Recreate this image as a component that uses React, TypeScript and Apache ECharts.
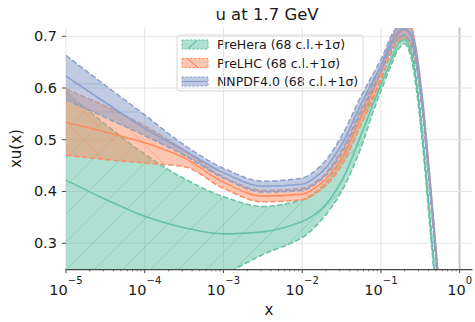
import React, { useEffect, useRef } from 'react';
import * as echarts from 'echarts';

// x values (momentum fraction)
const X_VALUES = [1e-5, 3.16e-5, 1e-4, 3.16e-4, 1e-3, 3.16e-3, 1e-2, 1.78e-2, 3.16e-2, 5.62e-2, 0.08, 0.1, 0.14, 0.17, 0.2, 0.24, 0.28, 0.34, 0.4, 0.46, 0.52, 0.58];

// PreHera
const PREHERA_UPPER = [0.592, 0.53, 0.472, 0.425, 0.39, 0.371, 0.384, 0.41, 0.462, 0.545, 0.585, 0.62, 0.672, 0.698, 0.703, 0.68, 0.625, 0.51, 0.39, 0.285, 0.19, 0.11];
const PREHERA_CENTRAL = [0.422, 0.385, 0.352, 0.33, 0.318, 0.322, 0.342, 0.367, 0.42, 0.51, 0.57, 0.606, 0.66, 0.688, 0.694, 0.67, 0.612, 0.498, 0.378, 0.273, 0.178, 0.098];
const PREHERA_LOWER = [0.1, 0.13, 0.16, 0.195, 0.238, 0.278, 0.311, 0.346, 0.4, 0.486, 0.555, 0.594, 0.65, 0.677, 0.685, 0.66, 0.6, 0.485, 0.365, 0.26, 0.165, 0.085];

// PreLHC
const PRELHC_UPPER = [0.598, 0.565, 0.527, 0.48, 0.428, 0.402, 0.406, 0.428, 0.48, 0.56, 0.61, 0.643, 0.7, 0.722, 0.73, 0.72, 0.675, 0.575, 0.46, 0.355, 0.26, 0.18];
const PRELHC_CENTRAL = [0.534, 0.515, 0.494, 0.465, 0.418, 0.391, 0.395, 0.417, 0.465, 0.545, 0.595, 0.63, 0.688, 0.706, 0.713, 0.7, 0.66, 0.562, 0.447, 0.343, 0.248, 0.168];
const PRELHC_LOWER = [0.47, 0.462, 0.455, 0.448, 0.406, 0.38, 0.384, 0.405, 0.45, 0.53, 0.58, 0.615, 0.675, 0.692, 0.697, 0.685, 0.645, 0.548, 0.434, 0.33, 0.235, 0.155];

// NNPDF4.0
const NNPDF_UPPER = [0.663, 0.605, 0.548, 0.49, 0.445, 0.42, 0.426, 0.452, 0.507, 0.585, 0.628, 0.655, 0.705, 0.724, 0.732, 0.72, 0.675, 0.575, 0.46, 0.355, 0.26, 0.18];
const NNPDF_CENTRAL = [0.623, 0.572, 0.522, 0.48, 0.436, 0.41, 0.414, 0.438, 0.49, 0.57, 0.615, 0.643, 0.693, 0.71, 0.715, 0.703, 0.66, 0.562, 0.447, 0.343, 0.248, 0.168];
const NNPDF_LOWER = [0.578, 0.543, 0.508, 0.47, 0.426, 0.399, 0.402, 0.424, 0.473, 0.553, 0.6, 0.63, 0.68, 0.697, 0.7, 0.688, 0.645, 0.548, 0.434, 0.33, 0.235, 0.155];

const LEGEND_LABELS = ['PreHera (68 c.l.+1σ)', 'PreLHC (68 c.l.+1σ)', 'NNPDF4.0 (68 c.l.+1σ)'];
const X_TICK_EXPONENTS = [-5, -4, -3, -2, -1, 0];
const Y_TICKS = [0.3, 0.4, 0.5, 0.6, 0.7];
const TITLE = 'u at 1.7 GeV';

const X_MIN = -5;
const X_MAX = 0.156;
const Y_MIN = 0.25;
const Y_MAX = 0.716;
const FONT = '"DejaVu Sans", "Liberation Sans", sans-serif';
const TEXT = '#1a1a1a';

function rgba(hex: string, a: number) {
  const n = parseInt(hex.slice(1), 16);
  return `rgba(${(n >> 16) & 255},${(n >> 8) & 255},${n & 255},${a})`;
}

type Pdf = { label: string; color: string; alpha: number; hatch: string; lower: number[]; central: number[]; upper: number[] };

const PDFS: Pdf[] = [
  { label: LEGEND_LABELS[0], color: '#66c2a5', alpha: 0.52, hatch: '/', lower: PREHERA_LOWER, central: PREHERA_CENTRAL, upper: PREHERA_UPPER },
  { label: LEGEND_LABELS[1], color: '#fc8d62', alpha: 0.5, hatch: '\\', lower: PRELHC_LOWER, central: PRELHC_CENTRAL, upper: PRELHC_UPPER },
  { label: LEGEND_LABELS[2], color: '#8da0cb', alpha: 0.55, hatch: '-', lower: NNPDF_LOWER, central: NNPDF_CENTRAL, upper: NNPDF_UPPER },
];

const HATCH_STEP = 28;

// monotone cubic (Fritsch-Carlson) bezier description of a pixel polyline
function tangents(p: number[][]) {
  const n = p.length;
  const h: number[] = [];
  const d: number[] = [];
  for (let i = 0; i < n - 1; i++) {
    h[i] = p[i + 1][0] - p[i][0];
    d[i] = (p[i + 1][1] - p[i][1]) / h[i];
  }
  const m: number[] = new Array(n);
  m[0] = d[0];
  m[n - 1] = d[n - 2];
  for (let i = 1; i < n - 1; i++) {
    if (d[i - 1] * d[i] <= 0) m[i] = 0;
    else {
      const w1 = 2 * h[i] + h[i - 1];
      const w2 = h[i] + 2 * h[i - 1];
      m[i] = (w1 + w2) / (w1 / d[i - 1] + w2 / d[i]);
    }
  }
  return { h, m };
}
const f = (v: number) => v.toFixed(2);
function forwardSegs(p: number[][]) {
  const { h, m } = tangents(p);
  let s = '';
  for (let i = 0; i < p.length - 1; i++) {
    s += ` C ${f(p[i][0] + h[i] / 3)} ${f(p[i][1] + (m[i] * h[i]) / 3)} ${f(p[i + 1][0] - h[i] / 3)} ${f(p[i + 1][1] - (m[i + 1] * h[i]) / 3)} ${f(p[i + 1][0])} ${f(p[i + 1][1])}`;
  }
  return s;
}
function backwardSegs(p: number[][]) {
  const { h, m } = tangents(p);
  let s = '';
  for (let i = p.length - 2; i >= 0; i--) {
    s += ` C ${f(p[i + 1][0] - h[i] / 3)} ${f(p[i + 1][1] - (m[i + 1] * h[i]) / 3)} ${f(p[i][0] + h[i] / 3)} ${f(p[i][1] + (m[i] * h[i]) / 3)} ${f(p[i][0])} ${f(p[i][1])}`;
  }
  return s;
}
function openPath(p: number[][]) {
  return `M ${f(p[0][0])} ${f(p[0][1])}` + forwardSegs(p);
}

function pdfRenderer(pdf: Pdf) {
  return (params: any, api: any) => {
    if (params.dataIndex !== 0) return null;
    const toPx = (vals: number[]) => X_VALUES.map((x, i) => api.coord([Math.log10(x), vals[i]]));
    const up = toPx(pdf.upper);
    const lo = toPx(pdf.lower);
    const ce = toPx(pdf.central);
    const n = up.length;
    const bandPath = openPath(up) + ` L ${f(lo[n - 1][0])} ${f(lo[n - 1][1])}` + backwardSegs(lo) + ' Z';
    const cs = params.coordSys;
    const x0 = cs.x, y0 = cs.y, x1 = cs.x + cs.width, y1 = cs.y + cs.height;
    const hatchStyle = { stroke: rgba(pdf.color, 0.55), lineWidth: 0.9, fill: null };
    const lines: any[] = [];
    if (pdf.hatch === '/') {
      for (let c = Math.floor((x0 + y0) / HATCH_STEP) * HATCH_STEP; c <= x1 + y1; c += HATCH_STEP) {
        lines.push({ type: 'line', shape: { x1: c - y1, y1: y1, x2: c - y0, y2: y0 }, style: hatchStyle });
      }
    } else if (pdf.hatch === '\\') {
      for (let c = Math.floor((x0 - y1) / HATCH_STEP) * HATCH_STEP; c <= x1 - y0; c += HATCH_STEP) {
        lines.push({ type: 'line', shape: { x1: c + y0, y1: y0, x2: c + y1, y2: y1 }, style: hatchStyle });
      }
    } else {
      for (let c = Math.floor(y0 / HATCH_STEP) * HATCH_STEP; c <= y1; c += HATCH_STEP) {
        lines.push({ type: 'line', shape: { x1: x0, y1: c, x2: x1, y2: c }, style: hatchStyle });
      }
    }
    const dashStyle = { stroke: pdf.color, lineWidth: 1.5, lineDash: [5.5, 2.4], fill: null };
    return {
      type: 'group',
      children: [
        { type: 'path', shape: { pathData: bandPath }, style: { fill: rgba(pdf.color, pdf.alpha), stroke: null } },
        { type: 'group', clipPath: { type: 'path', shape: { pathData: bandPath } }, children: lines },
        { type: 'path', shape: { pathData: openPath(lo) }, style: dashStyle },
        { type: 'path', shape: { pathData: openPath(up) }, style: dashStyle },
        { type: 'path', shape: { pathData: openPath(ce) }, style: { stroke: pdf.color, lineWidth: 1.6, fill: null } },
      ],
    };
  };
}

function buildOption() {
  const xTickData: number[][] = [];
  X_TICK_EXPONENTS.forEach((e) => {
    xTickData.push([e, Y_MIN, 1]);
    for (let k = 2; k <= 9; k++) {
      const p = e + Math.log10(k);
      if (p <= X_MAX) xTickData.push([p, Y_MIN, 0]);
    }
  });
  const yTickData = Y_TICKS.map((v) => [X_MIN, v]);

  const series: any[] = [
    {
      type: 'custom', silent: true, z: 1, clip: false,
      data: xTickData, encode: { x: 0, y: 1 },
      renderItem: (params: any, api: any) => {
        const cs = params.coordSys;
        const px = api.coord([api.value(0), Y_MIN])[0];
        const bottom = cs.y + cs.height;
        const major = api.value(2) === 1;
        const children: any[] = [
          { type: 'line', shape: { x1: px, y1: bottom, x2: px, y2: bottom + (major ? 4 : 2.2) }, style: { stroke: '#444', lineWidth: major ? 1 : 0.8 } },
        ];
        if (major) children.push({ type: 'line', shape: { x1: px, y1: cs.y, x2: px, y2: bottom }, style: { stroke: '#e3e3e3', lineWidth: 1 } });
        return { type: 'group', children };
      },
    },
    {
      type: 'custom', silent: true, z: 1, clip: false,
      data: yTickData, encode: { x: 0, y: 1 },
      renderItem: (params: any, api: any) => {
        const cs = params.coordSys;
        const py = api.coord([X_MIN, api.value(1)])[1];
        return {
          type: 'group',
          children: [
            { type: 'line', shape: { x1: cs.x - 4, y1: py, x2: cs.x, y2: py }, style: { stroke: '#444', lineWidth: 1 } },
            { type: 'line', shape: { x1: cs.x, y1: py, x2: cs.x + cs.width, y2: py }, style: { stroke: '#e3e3e3', lineWidth: 1 } },
          ],
        };
      },
    },
  ];

  PDFS.forEach((pdf) => {
    series.push({
      type: 'custom', name: pdf.label, silent: true, clip: true,
      data: [[X_MIN, Y_MIN]], encode: { x: 0, y: 1 },
      renderItem: pdfRenderer(pdf),
    });
  });

  const legendChildren: any[] = [
    { type: 'rect', shape: { x: 177, y: 35, width: 186, height: 56, r: 3 }, style: { fill: 'rgba(255,255,255,0.85)', stroke: '#d6d6d6', lineWidth: 1 } },
  ];
  PDFS.forEach((pdf, i) => {
    const cy = 44.5 + i * 18.5;
    legendChildren.push({ type: 'rect', shape: { x: 182, y: cy - 4.5, width: 26, height: 9 }, style: { fill: rgba(pdf.color, pdf.alpha), stroke: pdf.color, lineWidth: 1, lineDash: [2.5, 1.5] } });
    let hatch: any;
    if (pdf.hatch === '/') hatch = { x1: 188, y1: cy + 4, x2: 197, y2: cy - 4 };
    else if (pdf.hatch === '\\') hatch = { x1: 188, y1: cy - 4, x2: 197, y2: cy + 4 };
    else hatch = { x1: 183, y1: cy, x2: 207, y2: cy };
    legendChildren.push({ type: 'line', shape: hatch, style: { stroke: rgba(pdf.color, 1), lineWidth: 1.2 } });
    legendChildren.push({ type: 'text', style: { text: pdf.label, x: 217, y: cy, fill: TEXT, font: `12.5px ${FONT}`, align: 'left', verticalAlign: 'middle', textAlign: 'left', textVerticalAlign: 'middle' } });
  });

  return {
    animation: false,
    backgroundColor: '#ffffff',
    grid: { left: 61, right: 0, top: 28, bottom: 39, containLabel: false },
    xAxis: {
      type: 'value', min: X_MIN, max: X_MAX, interval: 1,
      axisLine: { show: true, lineStyle: { color: '#444', width: 1.25 } },
      axisTick: { show: false },
      splitLine: { show: false },
      axisLabel: {
        margin: 6,
        color: TEXT,
        formatter: (v: number) => {
          const n = Math.round(v);
          if (Math.abs(v - n) > 1e-6 || !X_TICK_EXPONENTS.includes(n)) return '';
          return `{b|10}{s|${n < 0 ? '\u2212' + -n : n}}`;
        },
        rich: {
          b: { fontSize: 14.5, fontFamily: FONT, color: TEXT, lineHeight: 22, verticalAlign: 'bottom' },
          s: { fontSize: 10, fontFamily: FONT, color: TEXT, lineHeight: 3, verticalAlign: 'top' },
        },
      },
      name: 'x', nameLocation: 'middle', nameGap: 27,
      nameTextStyle: { fontSize: 15, fontFamily: FONT, color: TEXT },
    },
    yAxis: {
      type: 'value', min: Y_MIN, max: Y_MAX,
      axisLine: { show: true, lineStyle: { color: '#444', width: 1.25 } },
      axisTick: { show: false },
      splitLine: { show: false },
      axisLabel: {
        margin: 9, color: TEXT, fontSize: 14.5, fontFamily: FONT,
        formatter: (v: number) => {
          const r = Math.round(v * 10) / 10;
          if (Math.abs(v - r) > 1e-6 || !Y_TICKS.includes(r)) return '';
          return r.toFixed(1);
        },
      },
      name: 'xu(x)', nameLocation: 'middle', nameGap: 33, nameRotate: 90,
      nameTextStyle: { fontSize: 15, fontFamily: FONT, color: TEXT },
    },
    graphic: [
      { type: 'text', z: 100, style: { text: TITLE, x: 267, y: 14.5, fill: TEXT, font: `16.5px ${FONT}`, align: 'center', verticalAlign: 'middle', textAlign: 'center', textVerticalAlign: 'middle' } },
      { type: 'group', z: 100, children: legendChildren },
    ],
    series,
  };
}

export default function App() {
  const ref = useRef<HTMLDivElement>(null);
  useEffect(() => {
    document.body.style.margin = '0';
    const chart = echarts.init(ref.current!, undefined, { renderer: 'svg' });
    chart.setOption(buildOption() as any);
    return () => chart.dispose();
  }, []);
  return <div ref={ref} style={{ position: 'absolute', left: 0, top: 0, width: 475, height: 322 }} />;
}
